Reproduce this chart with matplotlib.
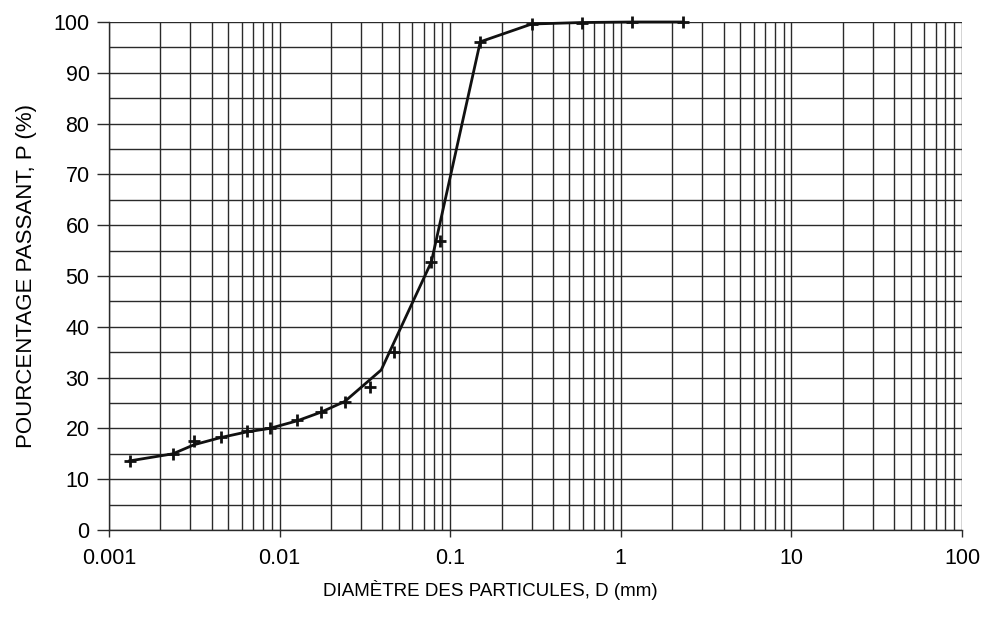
import numpy as np
import matplotlib
matplotlib.use("Agg")
import matplotlib.pyplot as plt
from matplotlib.ticker import LogLocator, FixedLocator, NullFormatter

plt.rcParams['font.family'] = ['Liberation Sans', 'DejaVu Sans']

# measured points (+ markers)
d_mes = [0.00132, 0.00237, 0.00316, 0.00452, 0.0064, 0.00875, 0.0127, 0.0175,
         0.0241, 0.0341, 0.047, 0.0776, 0.0867, 0.15, 0.30, 0.59, 1.16, 2.31]
p_mes = [13.6, 15.0, 17.5, 18.4, 19.4, 20.0, 21.7, 23.3,
         25.1, 28.2, 35.1, 52.8, 56.8, 96.1, 99.6, 99.9, 100.0, 100.0]

# drawn curve
d_line = [0.00132, 0.00237, 0.00316, 0.00452, 0.0064, 0.00875, 0.0127, 0.0175,
          0.0241, 0.0394, 0.0776, 0.15, 0.30, 0.59, 1.16, 2.31]
p_line = [13.6, 15.0, 16.8, 18.2, 19.3, 20.0, 21.5, 23.2,
          25.3, 31.5, 52.8, 96.1, 99.6, 99.9, 100.0, 100.0]

x_ticks = [0.001, 0.01, 0.1, 1, 10, 100]
x_labels = ["0.001", "0.01", "0.1", "1", "10", "100"]

fig = plt.figure(figsize=(9.87, 6.33), dpi=100)
ax = fig.add_axes([109 / 987, 1 - 530 / 633, (962 - 109) / 987, (530 - 22) / 633])

ax.set_xscale("log")
ax.set_xlim(0.001, 100)
ax.set_ylim(0, 100)

ax.xaxis.set_major_locator(FixedLocator(x_ticks))
ax.set_xticklabels(x_labels)
ax.xaxis.set_minor_locator(LogLocator(base=10, subs=np.arange(2, 10)))
ax.xaxis.set_minor_formatter(NullFormatter())
ax.set_yticks(np.arange(0, 101, 10))
ax.yaxis.set_minor_locator(FixedLocator(np.arange(5, 100, 10)))

grid_col = "#2a2a2a"
ax.grid(True, which="both", color=grid_col, linewidth=1.0)
ax.set_axisbelow(True)

for s in ["top", "right"]:
    ax.spines[s].set_visible(False)
for s in ["left", "bottom"]:
    ax.spines[s].set_color(grid_col)
    ax.spines[s].set_linewidth(1.0)

ax.tick_params(axis="y", which="major", direction="out", length=9, width=1,
               color=grid_col, labelsize=15.5, pad=5)
ax.tick_params(axis="y", which="minor", length=0)
ax.tick_params(axis="x", which="major", direction="out", length=5, width=1,
               color=grid_col, labelsize=15.5, pad=8)
ax.tick_params(axis="x", which="minor", length=0)

ax.plot(d_line, p_line, color="#111111", linewidth=2.0, zorder=3, clip_on=False)
ax.plot(d_mes, p_mes, linestyle="none", marker="+", markersize=9,
        markeredgewidth=2.0, color="#111111", zorder=4, clip_on=False)

ax.set_xlabel("DIAMÈTRE DES PARTICULES, D (mm)", fontsize=13.5)
ax.xaxis.set_label_coords(0.447, -0.098)
ax.set_ylabel("POURCENTAGE PASSANT, P (%)", fontsize=16, labelpad=12)

fig.savefig("out.png", dpi=100)
